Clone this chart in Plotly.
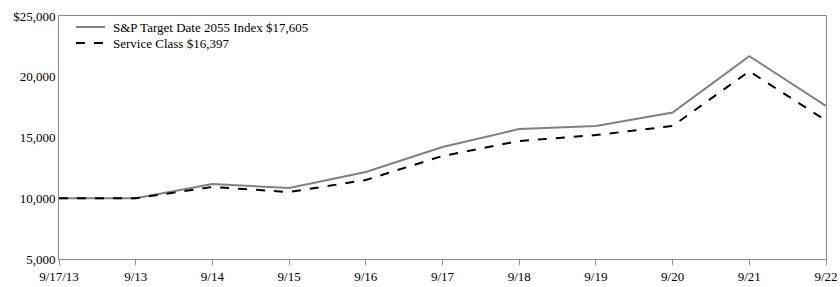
import plotly.graph_objects as go

labels = ["9/17/13", "9/13", "9/14", "9/15", "9/16", "9/17", "9/18", "9/19", "9/20", "9/21", "9/22"]
index_vals = [10000, 10000, 11170, 10840, 12160, 14220, 15700, 15950, 17050, 21700, 17605]
service_vals = [10000, 10000, 10930, 10510, 11500, 13480, 14710, 15200, 15950, 20450, 16397]
y_ticks = [5000, 10000, 15000, 20000, 25000]
y_text = ["5,000", "10,000", "15,000", "20,000", "$25,000"]
legend_names = ["S&P Target Date 2055 Index $17,605", "Service Class $16,397"]

FONT = "Liberation Serif, Times New Roman, serif"
FS = 13
xs = list(range(len(labels)))

fig = go.Figure()
fig.add_trace(go.Scatter(x=xs, y=index_vals, mode="lines", name=legend_names[0],
                         line=dict(color="#808080", width=2), showlegend=False))
fig.add_trace(go.Scatter(x=xs, y=service_vals, mode="lines", name=legend_names[1],
                         line=dict(color="#000000", width=2, dash="dash"), showlegend=False))

W, H = 840, 287
L, R, T, B = 59, 14, 16, 28
pw, ph = W - L - R, H - T - B

def px(x):
    return (x - L) / pw

def py(y):
    return 1 - (y - T) / ph

styles = [dict(color="#808080", width=2), dict(color="#000000", width=2, dash="dash")]
rows = [27, 43]
for name, st, ry in zip(legend_names, styles, rows):
    fig.add_shape(type="line", xref="paper", yref="paper",
                  x0=px(76), x1=px(105), y0=py(ry), y1=py(ry), line=st)
    fig.add_annotation(xref="paper", yref="paper", x=px(111), y=py(ry),
                       xanchor="left", yanchor="middle", showarrow=False,
                       text=name, font=dict(family=FONT, size=FS, color="#000"))

fig.update_layout(
    width=W, height=H,
    margin=dict(l=L, r=R, t=T, b=B),
    paper_bgcolor="white", plot_bgcolor="white",
    font=dict(family=FONT, size=FS, color="#000"),
    showlegend=False,
)
fig.update_xaxes(range=[0, 10], tickvals=xs, ticktext=labels, automargin=False,
                 showgrid=False, zeroline=False,
                 showline=True, linecolor="#8c8c8c", linewidth=1, mirror=True,
                 ticks="outside", ticklen=5, tickcolor="#8c8c8c",
                 tickfont=dict(family=FONT, size=FS))
fig.update_yaxes(range=[5000, 25000], tickvals=y_ticks, ticktext=y_text, automargin=False,
                 showgrid=False, zeroline=False,
                 showline=True, linecolor="#8c8c8c", linewidth=1, mirror=True,
                 ticks="", ticklen=0, tickfont=dict(family=FONT, size=FS))

fig.write_html("out.html")
